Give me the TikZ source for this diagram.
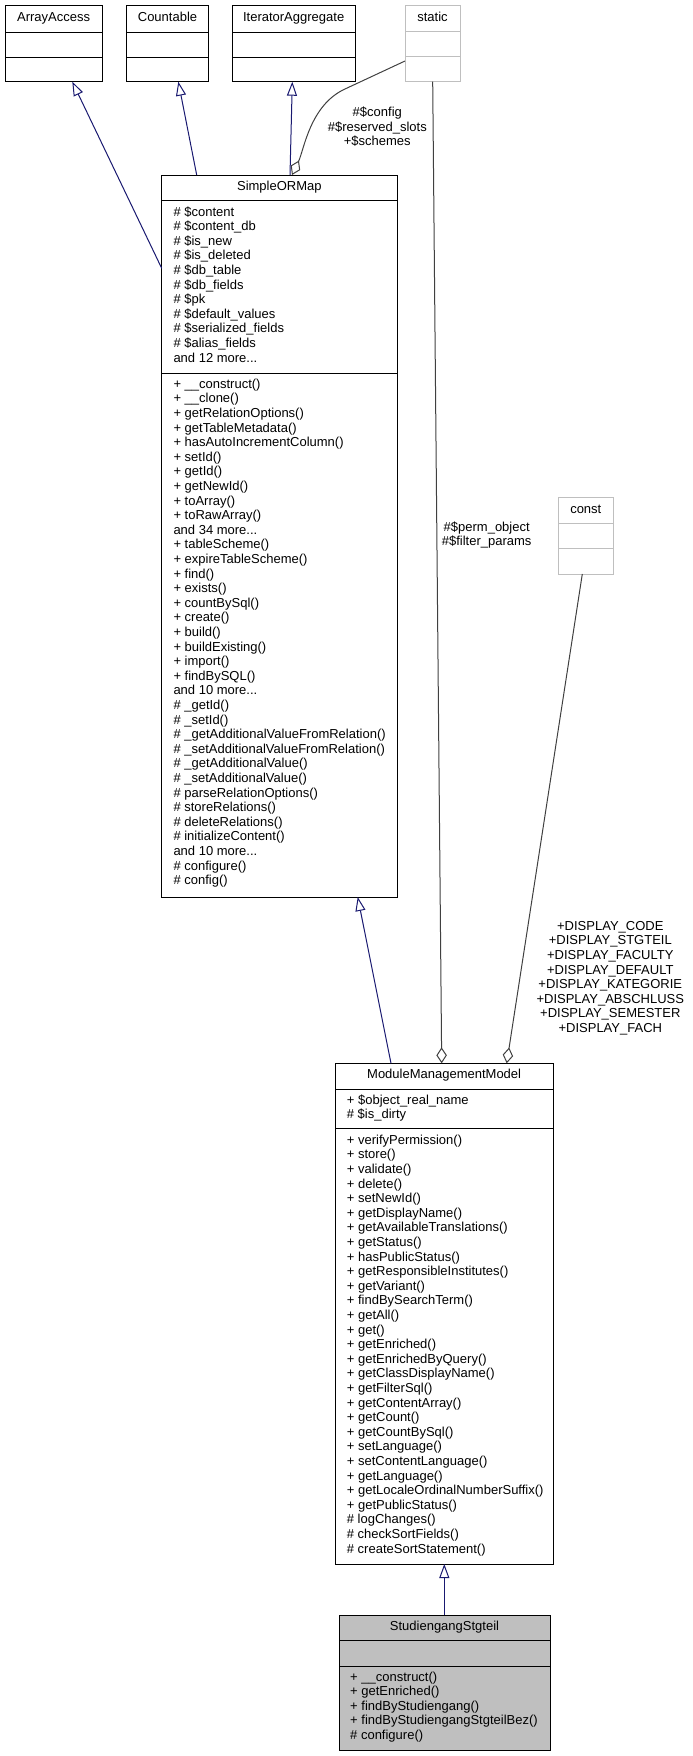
\documentclass[tikz,border=0pt]{standalone}
\usepackage{fontspec}
\setmainfont{Liberation Sans}
\usetikzlibrary{arrows.meta}
\definecolor{edgeblue}{HTML}{191970}
\definecolor{agggray}{HTML}{404040}
\definecolor{lightbox}{HTML}{BFBFBF}
\newcommand{\threedots}{...}
\begin{document}
\begin{tikzpicture}[x=1pt,y=-1pt,
  box/.style={draw=black, line width=1pt, inner sep=0pt, outer sep=0pt, anchor=north west},
  gbox/.style={box, draw=lightbox},
  txt/.style={font=\fontsize{13}{14.6}\selectfont, inner sep=0pt, text height=9.4pt, text depth=2.8pt},
  ln/.style={txt, anchor=west},
  inh/.style={draw=edgeblue, line width=1pt, -{Triangle[open, length=14pt, width=10pt]}},
  agg/.style={draw=agggray, line width=1pt, {Diamond[open, length=16pt, width=10.5pt]}-}
]
\useasboundingbox (0,0) rectangle (693,1756);

% ---------- top boxes ----------
\node[box, minimum width=97.3pt, minimum height=76pt] (aa) at (5,5.7) {};
\draw ([yshift=-26pt]aa.north west) -- ([yshift=-26pt]aa.north east);
\draw ([yshift=-51pt]aa.north west) -- ([yshift=-51pt]aa.north east);
\node[txt] (aat) at (53.65,17.9) {ArrayAccess};

\node[box, minimum width=81.6pt, minimum height=76pt] (ca) at (126.7,5.7) {};
\draw ([yshift=-26pt]ca.north west) -- ([yshift=-26pt]ca.north east);
\draw ([yshift=-51pt]ca.north west) -- ([yshift=-51pt]ca.north east);
\node[txt] (cat) at (167.5,17.9) {Countable};

\node[box, minimum width=122.7pt, minimum height=76pt] (ia) at (232.3,5.7) {};
\draw ([yshift=-26pt]ia.north west) -- ([yshift=-26pt]ia.north east);
\draw ([yshift=-51pt]ia.north west) -- ([yshift=-51pt]ia.north east);
\node[txt] (iat) at (293.65,17.9) {IteratorAggregate};

\node[gbox, minimum width=55pt, minimum height=76pt] (st) at (405,5.7) {};
\draw[lightbox, line width=1pt] ([yshift=-26pt]st.north west) -- ([yshift=-26pt]st.north east);
\draw[lightbox, line width=1pt] ([yshift=-51pt]st.north west) -- ([yshift=-51pt]st.north east);
\node[txt] (stt) at (432.5,17.9) {static};

% ---------- const ----------
\node[gbox, minimum width=55pt, minimum height=76.3pt] (co) at (558.3,497.7) {};
\draw[lightbox, line width=1pt] ([yshift=-25.6pt]co.north west) -- ([yshift=-25.6pt]co.north east);
\draw[lightbox, line width=1pt] ([yshift=-50.6pt]co.north west) -- ([yshift=-50.6pt]co.north east);
\node[txt] (cot) at (585.8,509.7) {const};

% ---------- SimpleORMap ----------
\node[box, minimum width=235.3pt, minimum height=722pt] (sorm) at (161.7,175) {};
\draw ([yshift=-25pt]sorm.north west) -- ([yshift=-25pt]sorm.north east);
\draw ([yshift=-198pt]sorm.north west) -- ([yshift=-198pt]sorm.north east);
\node[txt] (sormt) at (279.35,186.7) {SimpleORMap};
\foreach \t [count=\i from 0] in {{\# \$content},{\# \$content\_db},{\# \$is\_new},{\# \$is\_deleted},{\# \$db\_table},{\# \$db\_fields},{\# \$pk},{\# \$default\_values},{\# \$serialized\_fields},{\# \$alias\_fields},{and 12 more\threedots}}
  \node[ln] (sa\i) at (173.3,212.7+14.6*\i) {\t};
\foreach \t [count=\i from 0] in {{+ \_\_construct()},{+ \_\_clone()},{+ getRelationOptions()},{+ getTableMetadata()},{+ hasAutoIncrementColumn()},{+ setId()},{+ getId()},{+ getNewId()},{+ toArray()},{+ toRawArray()},{and 34 more\threedots},{+ tableScheme()},{+ expireTableScheme()},{+ find()},{+ exists()},{+ countBySql()},{+ create()},{+ build()},{+ buildExisting()},{+ import()},{+ findBySQL()},{and 10 more\threedots},{\# \_getId()},{\# \_setId()},{\# \_getAdditionalValueFromRelation()},{\# \_setAdditionalValueFromRelation()},{\# \_getAdditionalValue()},{\# \_setAdditionalValue()},{\# parseRelationOptions()},{\# storeRelations()},{\# deleteRelations()},{\# initializeContent()},{and 10 more\threedots},{\# configure()},{\# config()}}
  \node[ln] (sm\i) at (173.3,385+14.6*\i) {\t};

% ---------- ModuleManagementModel ----------
\node[box, minimum width=218.3pt, minimum height=500.7pt] (mmm) at (335,1063.3) {};
\draw ([yshift=-26pt]mmm.north west) -- ([yshift=-26pt]mmm.north east);
\draw ([yshift=-65pt]mmm.north west) -- ([yshift=-65pt]mmm.north east);
\node[txt] (mmmt) at (444.15,1075.3) {ModuleManagementModel};
\foreach \t [count=\i from 0] in {{+ \$object\_real\_name},{\# \$is\_dirty}}
  \node[ln] (ma\i) at (346.7,1100.7+14.6*\i) {\t};
\foreach \t [count=\i from 0] in {{+ verifyPermission()},{+ store()},{+ validate()},{+ delete()},{+ setNewId()},{+ getDisplayName()},{+ getAvailableTranslations()},{+ getStatus()},{+ hasPublicStatus()},{+ getResponsibleInstitutes()},{+ getVariant()},{+ findBySearchTerm()},{+ getAll()},{+ get()},{+ getEnriched()},{+ getEnrichedByQuery()},{+ getClassDisplayName()},{+ getFilterSql()},{+ getContentArray()},{+ getCount()},{+ getCountBySql()},{+ setLanguage()},{+ setContentLanguage()},{+ getLanguage()},{+ getLocaleOrdinalNumberSuffix()},{+ getPublicStatus()},{\# logChanges()},{\# checkSortFields()},{\# createSortStatement()}}
  \node[ln] (mm\i) at (346.7,1141+14.6*\i) {\t};

% ---------- StudiengangStgteil ----------
\node[box, fill=lightbox, minimum width=211pt, minimum height=135pt] (stg) at (339,1615) {};
\draw ([yshift=-25pt]stg.north west) -- ([yshift=-25pt]stg.north east);
\draw ([yshift=-51pt]stg.north west) -- ([yshift=-51pt]stg.north east);
\node[txt] (stgt) at (444.5,1626.8) {StudiengangStgteil};
\foreach \t [count=\i from 0] in {{+ \_\_construct()},{+ getEnriched()},{+ findByStudiengang()},{+ findByStudiengangStgteilBez()},{\# configure()}}
  \node[ln] (sg\i) at (350,1677.7+14.6*\i) {\t};

% ---------- inheritance edges ----------
\draw[inh] ([yshift=-93.3pt]sorm.north west) -- ([xshift=67.3pt]aa.south west);
\draw[inh] ([xshift=35pt]sorm.north west) -- ([xshift=51.6pt]ca.south west);
\draw[inh] ([xshift=128.3pt]sorm.north west) -- ([xshift=60pt]ia.south west);
\draw[inh] ([xshift=56pt]mmm.north west) -- ([xshift=196pt]sorm.south west);
\draw[inh] ([xshift=105.3pt]stg.north west) -- ([xshift=109.3pt]mmm.south west);

% ---------- aggregation edges ----------
\draw[agg] ([xshift=130.3pt]sorm.north west) .. controls (304,150) and (310,105) .. (345,89) -- ([yshift=-55.3pt]st.north west);
\draw[agg] ([xshift=106.7pt]mmm.north west) -- ([xshift=27.7pt]st.south west);
\draw[agg] ([xshift=171.7pt]mmm.north west) -- ([xshift=24pt]co.south west);

% ---------- edge labels ----------
\foreach \t [count=\i from 0] in {{\#\$config},{\#\$reserved\_slots},{+\$schemes}}
  \node[txt] (la\i) at (377.3,113.3+14.6*\i) {\t};
\foreach \t [count=\i from 0] in {{\#\$perm\_object},{\#\$filter\_params}}
  \node[txt] (lb\i) at (486.7,527.7+14.6*\i) {\t};
\foreach \t [count=\i from 0] in {{+DISPLAY\_CODE},{+DISPLAY\_STGTEIL},{+DISPLAY\_FACULTY},{+DISPLAY\_DEFAULT},{+DISPLAY\_KATEGORIE},{+DISPLAY\_ABSCHLUSS},{+DISPLAY\_SEMESTER},{+DISPLAY\_FACH}}
  \node[txt] (lc\i) at (610.3,927+14.6*\i) {\t};
\end{tikzpicture}
\end{document}
